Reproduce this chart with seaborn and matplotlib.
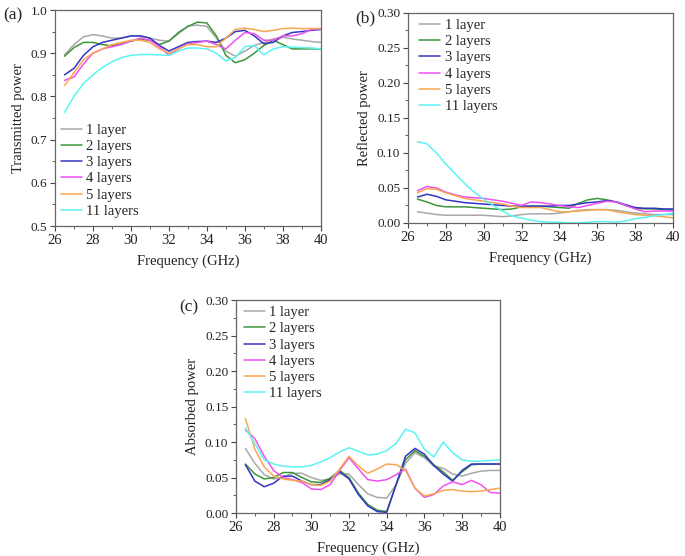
import matplotlib
matplotlib.use("Agg")
import matplotlib.pyplot as plt
import seaborn as sns
import numpy as np
from matplotlib.ticker import MultipleLocator, AutoMinorLocator

freq = [26.5, 27, 27.5, 28, 28.5, 29, 29.5, 30, 30.5, 31, 31.5, 32, 32.5, 33,
        33.5, 34, 34.5, 35, 35.5, 36, 36.5, 37, 37.5, 38, 38.5, 39, 39.5, 40]
labels = ["1 layer", "2 layers", "3 layers", "4 layers", "5 layers", "11 layers"]
colors = ["#a8a8a8", "#3c963c", "#3434c4", "#f050f0", "#f8a850", "#5cf4f4"]

# (a) transmitted power
trans_1 = [0.896, 0.92, 0.938, 0.943, 0.94, 0.935, 0.935, 0.94, 0.94, 0.935, 0.93, 0.928, 0.945, 0.963,
           0.965, 0.962, 0.935, 0.905, 0.893, 0.905, 0.918, 0.925, 0.933, 0.937, 0.933, 0.93, 0.927, 0.925]
trans_2 = [0.893, 0.913, 0.925, 0.925, 0.92, 0.917, 0.922, 0.928, 0.932, 0.93, 0.92, 0.928, 0.948, 0.962,
           0.972, 0.97, 0.94, 0.895, 0.878, 0.885, 0.9, 0.918, 0.93, 0.92, 0.91, 0.91, 0.91, 0.91]
trans_3 = [0.85, 0.865, 0.895, 0.915, 0.925, 0.93, 0.935, 0.94, 0.94, 0.935, 0.918, 0.905, 0.915, 0.925,
           0.927, 0.928, 0.925, 0.935, 0.95, 0.953, 0.94, 0.922, 0.925, 0.94, 0.948, 0.95, 0.953, 0.955]
trans_4 = [0.837, 0.845, 0.875, 0.9, 0.91, 0.915, 0.92, 0.928, 0.935, 0.93, 0.915, 0.895, 0.91, 0.922,
           0.925, 0.928, 0.92, 0.91, 0.93, 0.948, 0.945, 0.93, 0.93, 0.94, 0.94, 0.945, 0.955, 0.957]
trans_5 = [0.825, 0.855, 0.885, 0.9, 0.91, 0.92, 0.925, 0.93, 0.93, 0.925, 0.91, 0.9, 0.91, 0.92,
           0.92, 0.915, 0.915, 0.935, 0.955, 0.958, 0.955, 0.95, 0.953, 0.957, 0.958, 0.957, 0.957, 0.957]
trans_11 = [0.763, 0.8, 0.83, 0.85, 0.867, 0.88, 0.89, 0.895, 0.897, 0.897, 0.896, 0.895, 0.905, 0.912,
            0.912, 0.91, 0.9, 0.882, 0.89, 0.915, 0.918, 0.896, 0.91, 0.915, 0.914, 0.913, 0.912, 0.91]

# (b) reflected power
refl_1 = [0.016, 0.014, 0.012, 0.011, 0.011, 0.011, 0.011, 0.011, 0.010, 0.009, 0.010, 0.012, 0.013, 0.013,
          0.013, 0.014, 0.016, 0.018, 0.019, 0.019, 0.019, 0.018, 0.016, 0.014, 0.013, 0.012, 0.012, 0.012]
refl_2 = [0.034, 0.03, 0.025, 0.023, 0.023, 0.023, 0.022, 0.021, 0.020, 0.019, 0.020, 0.023, 0.024, 0.024,
          0.023, 0.022, 0.021, 0.028, 0.033, 0.035, 0.033, 0.03, 0.025, 0.021, 0.02, 0.02, 0.019, 0.019]
refl_3 = [0.037, 0.041, 0.038, 0.033, 0.031, 0.029, 0.028, 0.027, 0.026, 0.025, 0.024, 0.024, 0.024, 0.024,
          0.024, 0.025, 0.025, 0.027, 0.029, 0.03, 0.032, 0.03, 0.026, 0.022, 0.021, 0.021, 0.02, 0.02]
refl_4 = [0.046, 0.052, 0.05, 0.044, 0.04, 0.037, 0.036, 0.035, 0.033, 0.031, 0.028, 0.025, 0.03, 0.029,
          0.027, 0.025, 0.023, 0.022, 0.025, 0.028, 0.031, 0.03, 0.025, 0.02, 0.016, 0.017, 0.017, 0.017]
refl_5 = [0.043, 0.049, 0.048, 0.043, 0.039, 0.035, 0.033, 0.031, 0.029, 0.027, 0.024, 0.022, 0.022, 0.022,
          0.019, 0.016, 0.016, 0.017, 0.018, 0.019, 0.019, 0.016, 0.014, 0.012, 0.011, 0.01, 0.009, 0.007]
refl_11 = [0.116, 0.113, 0.1, 0.084, 0.07, 0.056, 0.044, 0.034, 0.025, 0.017, 0.01, 0.007, 0.004, 0.002,
           0.001, 0.001, 0.0, 0.0, 0.001, 0.002, 0.002, 0.001, 0.003, 0.006, 0.008, 0.01, 0.012, 0.014]

# (c) absorbed power
abs_1 = [0.091, 0.07, 0.054, 0.048, 0.05, 0.056, 0.056, 0.05, 0.046, 0.048, 0.055, 0.055, 0.04, 0.027,
         0.022, 0.021, 0.04, 0.07, 0.085, 0.078, 0.066, 0.063, 0.055, 0.052, 0.056, 0.059, 0.06, 0.06]
abs_2 = [0.069, 0.055, 0.048, 0.05, 0.057, 0.057, 0.05, 0.044, 0.043, 0.049, 0.06, 0.05, 0.028, 0.012,
         0.004, 0.002, 0.04, 0.075, 0.088, 0.08, 0.068, 0.058, 0.046, 0.058, 0.068, 0.069, 0.069, 0.069]
abs_3 = [0.068, 0.045, 0.037, 0.042, 0.052, 0.052, 0.045, 0.04, 0.04, 0.047, 0.058, 0.048, 0.026, 0.01,
         0.002, 0.001, 0.04, 0.08, 0.091, 0.083, 0.067, 0.055, 0.045, 0.06, 0.069, 0.069, 0.069, 0.069]
abs_4 = [0.117, 0.105, 0.08, 0.06, 0.05, 0.047, 0.043, 0.034, 0.033, 0.04, 0.06, 0.078, 0.062, 0.047,
         0.045, 0.047, 0.054, 0.062, 0.035, 0.022, 0.026, 0.038, 0.044, 0.04, 0.046, 0.04, 0.029, 0.028]
abs_5 = [0.133, 0.09, 0.065, 0.052, 0.048, 0.046, 0.045, 0.04, 0.039, 0.045, 0.062, 0.08, 0.066, 0.056,
         0.062, 0.069, 0.068, 0.06, 0.035, 0.024, 0.027, 0.032, 0.033, 0.031, 0.03, 0.031, 0.033, 0.035]
abs_11 = [0.12, 0.098, 0.075, 0.069, 0.066, 0.065, 0.065, 0.067, 0.072, 0.078, 0.086, 0.092, 0.087, 0.082,
          0.083, 0.088, 0.098, 0.118, 0.113, 0.09, 0.079, 0.1, 0.085, 0.075, 0.073, 0.073, 0.074, 0.075]

sns.set_style("ticks")
plt.rcParams["font.family"] = ["Liberation Serif", "DejaVu Serif"]

W, H = 685, 556
fig = plt.figure(figsize=(6.85, 5.56), dpi=100)
ax_a = fig.add_axes([0.0803, 0.5935, 0.388, 0.3885])
ax_b = fig.add_axes([0.5956, 0.599, 0.387, 0.378])
ax_c = fig.add_axes([0.3445, 0.0773, 0.385, 0.383])

panels = [
    (ax_a, [trans_1, trans_2, trans_3, trans_4, trans_5, trans_11], "Transmitted power",
     (0.5, 1.0), 0.1, 0.05, "%.1f", "(a)", (3, 15), ("lower left", (0.0, 0.01))),
    (ax_b, [refl_1, refl_2, refl_3, refl_4, refl_5, refl_11], "Reflected power",
     (0.0, 0.30), 0.05, 0.025, "%.2f", "(b)", (355, 18), ("upper left", (0.02, 1.0))),
    (ax_c, [abs_1, abs_2, abs_3, abs_4, abs_5, abs_11], "Absorbed power",
     (0.0, 0.30), 0.05, 0.025, "%.2f", "(c)", (179, 307), ("upper left", (0.008, 1.0))),
]

for ax, series, ylab, ylim, major, minor, fmt, tag, tag_xy, (loc, anchor) in panels:
    for vals, lab, col in zip(series, labels, colors):
        sns.lineplot(x=freq, y=vals, color=col, label=lab, linewidth=1.1, ax=ax)
    ax.set_xlim(26, 40)
    ax.set_ylim(*ylim)
    ax.xaxis.set_major_locator(MultipleLocator(2))
    ax.xaxis.set_minor_locator(MultipleLocator(1))
    ax.yaxis.set_major_locator(MultipleLocator(major))
    ax.yaxis.set_minor_locator(MultipleLocator(minor))
    ax.yaxis.set_major_formatter(plt.FormatStrFormatter(fmt))
    ax.tick_params(which="major", direction="out", length=3.5, width=0.8, labelsize=10.5,
                   colors="#444444", labelcolor="#222222", pad=2.5)
    ax.tick_params(axis="y", which="major", labelsize=9.5, pad=2)
    ax.tick_params(which="minor", direction="out", length=2, width=0.6, colors="#444444")
    for sp in ax.spines.values():
        sp.set_color("#666666")
        sp.set_linewidth(0.9)
    ax.set_xlabel("Frequency (GHz)", fontsize=10.5, color="#222222", labelpad=5)
    ax.set_ylabel(ylab, fontsize=10.5, color="#222222")
    ax.legend(loc=loc, bbox_to_anchor=anchor, frameon=False, fontsize=10.5, handlelength=1.45,
              labelspacing=0.21, borderaxespad=0.0, handletextpad=0.3)
    fig.text(tag_xy[0] / W, 1 - tag_xy[1] / H, tag, fontsize=12.5, color="#222222",
             ha="left", va="center")

fig.savefig("out.png", dpi=100)
